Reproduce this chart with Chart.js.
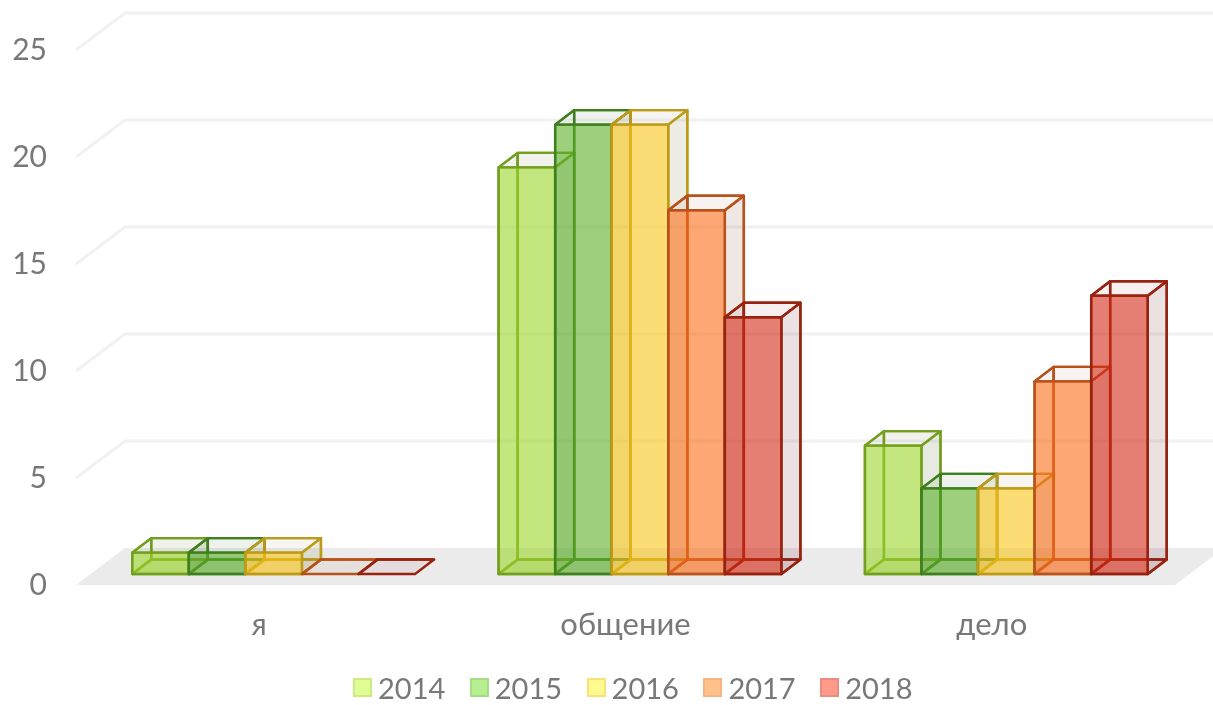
<!DOCTYPE html>
<html>
<head>
<meta charset="utf-8">
<script src="https://cdn.jsdelivr.net/npm/chart.js@4"></script>
<style>
  html, body { margin: 0; background: #fff; overflow: hidden; }
  #wrap { position: relative; width: 1213px; height: 705px; }
  #legend { position: absolute; left: 353px; top: 670px; display: flex; font: 29px Lato, "Noto Sans", sans-serif; color: #787878; }
  #legend .item { width: 116.8px; display: flex; align-items: center; white-space: nowrap; }
  #legend .box { width: 15px; height: 15px; border: 2px solid; margin-right: 6px; flex: none; }
</style>
</head>
<body>
<div id="wrap">
  <canvas id="chart3d" width="1213" height="705"></canvas>
  <div id="legend"></div>
</div>
<script>
/* data */
const categories = ['я', 'общение', 'дело'];
const years = ['2014', '2015', '2016', '2017', '2018'];
const values2014 = [1, 19, 6];
const values2015 = [1, 21, 4];
const values2016 = [1, 21, 4];
const values2017 = [0, 17, 9];
const values2018 = [0, 12, 13];
const yTicks = [0, 5, 10, 15, 20, 25];

/* colours */
const seriesValues = [values2014, values2015, values2016, values2017, values2018];
const frontColors = ['rgba(157,214,40,0.6)', 'rgba(92,175,38,0.6)', 'rgba(250,197,23,0.6)', 'rgba(252,108,25,0.6)', 'rgba(212,42,22,0.6)'];
const edgeColors = ['#739f1f', '#3f7f1f', '#bd9a17', '#b8511a', '#96220f'];
const sideColors = ['rgba(105,125,60,0.16)', 'rgba(70,115,60,0.12)', 'rgba(125,115,50,0.13)', 'rgba(125,70,40,0.13)', 'rgba(115,45,50,0.14)'];
const capColors = ['rgba(105,125,60,0.1)', 'rgba(70,115,60,0.09)', 'rgba(125,115,50,0.07)', 'rgba(160,70,40,0.07)', 'rgba(160,45,40,0.07)'];
const legendFills = ['#e0fe94', '#b5ef8f', '#fffb8f', '#ffc08a', '#ff9a8a'];
const legendEdges = ['#cdeb85', '#a5dc84', '#fbe07a', '#f8b47e', '#ea8c80'];

/* oblique projection of the chart box */
const wallDx = 49, wallDy = 37;     // floor front edge to back wall
const barShiftX = 14.5;             // bars stand a bit inside the floor
const barDx = 19, barDy = 14.5;     // depth of one bar

const box3d = {
    id: 'box3d',
    beforeDatasetsDraw(chart) {
        const ctx = chart.ctx;
        const area = chart.chartArea;
        const yAxis = chart.scales.y;
        const y0 = yAxis.getPixelForValue(0);

        // floor
        ctx.save();
        ctx.fillStyle = '#ebebeb';
        ctx.beginPath();
        ctx.moveTo(area.left, y0);
        ctx.lineTo(area.left + wallDx, y0 - wallDy);
        ctx.lineTo(area.right + wallDx, y0 - wallDy);
        ctx.lineTo(area.right, y0);
        ctx.closePath();
        ctx.fill();

        // grid lines, bent at the wall
        ctx.strokeStyle = '#f1f1f1';
        ctx.lineWidth = 3;
        yTicks.forEach(function(t) {
            if (t === 0) return;
            const y = yAxis.getPixelForValue(t);
            ctx.beginPath();
            ctx.moveTo(area.left, y);
            ctx.lineTo(area.left + wallDx, y - wallDy);
            ctx.lineTo(area.right + wallDx, y - wallDy);
            ctx.stroke();
        });

        // bars, left to right so later ones sit on top
        ctx.lineWidth = 2.4;
        ctx.lineJoin = 'round';
        chart.data.datasets.forEach(function(ds, i) {
            chart.getDatasetMeta(i).data.forEach(function(bar) {
                drawBox(ctx, bar, i);
            });
        });
        ctx.restore();
        return false;
    }
};

function drawBox(ctx, bar, i) {
    const l = bar.x - bar.width / 2 + barShiftX;
    const r = l + bar.width;
    const t = bar.y;
    const b = bar.base;

    function face(pts, fill) {
        ctx.beginPath();
        pts.forEach(function(p, n) {
            if (n === 0) ctx.moveTo(p[0], p[1]); else ctx.lineTo(p[0], p[1]);
        });
        ctx.closePath();
        if (fill) { ctx.fillStyle = fill; ctx.fill(); }
        ctx.strokeStyle = edgeColors[i];
        ctx.stroke();
    }

    const ld = l + barDx, rd = r + barDx, td = t - barDy, bd = b - barDy;
    // back and bottom first, seen through the front
    face([[ld, td], [rd, td], [rd, bd], [ld, bd]], null);
    face([[l, b], [r, b], [rd, bd], [ld, bd]], capColors[i]);
    face([[l, b], [ld, bd], [ld, td], [l, t]], null);
    if (t !== b) {
        face([[r, t], [rd, td], [rd, bd], [r, b]], sideColors[i]);
        face([[l, t], [r, t], [rd, td], [ld, td]], capColors[i]);
        face([[l, t], [r, t], [r, b], [l, b]], frontColors[i]);
    }
}

const htmlLegend = {
    id: 'htmlLegend',
    afterInit(chart) {
        const holder = document.getElementById('legend');
        chart.data.datasets.forEach(function(ds, i) {
            const item = document.createElement('div');
            item.className = 'item';
            const box = document.createElement('span');
            box.className = 'box';
            box.style.background = legendFills[i];
            box.style.borderColor = legendEdges[i];
            item.appendChild(box);
            item.appendChild(document.createTextNode(ds.label));
            holder.appendChild(item);
        });
    }
};

const ctx3d = document.getElementById('chart3d').getContext('2d');
const mixedChart = new Chart(ctx3d, {
    type: 'bar',
    plugins: [box3d, htmlLegend],
    data: {
        labels: categories,
        datasets: years.map(function(y, i) {
            return {
                label: y,
                data: seriesValues[i],
                yAxisID: 'yBars',
                backgroundColor: frontColors[i],
                borderColor: edgeColors[i],
                categoryPercentage: 0.772,
                barPercentage: 1
            };
        })
    },
    options: {
        responsive: false,
        animation: false,
        layout: { padding: { top: 50, right: 38, left: 0, bottom: 0 } },
        plugins: { legend: { display: false }, tooltip: { enabled: false } },
        scales: {
            x: {
                grid: { display: false },
                border: { display: false },
                ticks: { color: '#787878', padding: 13, maxRotation: 0, font: { family: 'Lato, "Noto Sans", sans-serif', size: 31 } },
                afterFit(s) { s.height = 120; }
            },
            y: {
                min: 0,
                max: 25,
                afterBuildTicks(s) { s.ticks = yTicks.map(function(v) { return { value: v }; }); },
                grid: { display: false },
                border: { display: false },
                ticks: { color: '#787878', padding: 21, font: { family: 'Lato, "Noto Sans", sans-serif', size: 30 } },
                afterFit(s) { s.width = 76; }
            },
            // bars stand on a plane 11px above the floor's front edge
            yBars: { display: false, min: -0.514, max: 24.486 }
        }
    }
});
</script>
</body>
</html>
